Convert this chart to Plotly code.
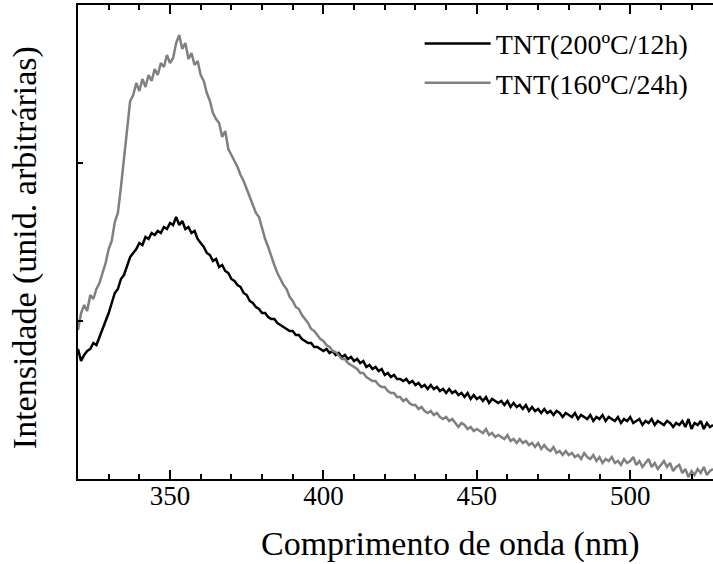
import numpy as np
import plotly.graph_objects as go

wavelength = list(range(320, 528))

tnt_200_12 = [
    130, 118, 124, 128, 130, 136, 134, 142, 150, 156,
    166, 176, 186, 190, 200, 204, 214, 222, 226, 230,
    236, 234, 242, 240, 246, 244, 248, 246, 252, 250,
    256, 254, 262, 254, 258, 250, 252, 246, 248, 240,
    236, 232, 226, 224, 218, 220, 212, 214, 208, 206,
    200, 198, 194, 192, 186, 184, 178, 176, 172, 170,
    166, 166, 162, 160, 160, 156, 154, 152, 150, 148,
    148, 144, 144, 140, 138, 136, 136, 132, 132, 130,
    128, 130, 126, 128, 124, 126, 122, 124, 120, 122,
    118, 120, 116, 118, 112, 114, 110, 112, 108, 110,
    104, 106, 102, 104, 100, 100, 98, 100, 96, 98,
    94, 96, 92, 94, 90, 94, 90, 92, 88, 90,
    86, 90, 86, 88, 84, 86, 82, 86, 80, 84,
    80, 82, 78, 82, 76, 80, 78, 76, 78, 74,
    78, 72, 76, 72, 74, 70, 74, 68, 72, 68,
    70, 66, 70, 66, 68, 64, 68, 66, 62, 66,
    64, 62, 66, 60, 64, 62, 60, 64, 58, 62,
    60, 64, 58, 62, 60, 58, 62, 56, 60, 58,
    62, 56, 58, 60, 54, 58, 56, 60, 54, 58,
    56, 54, 58, 56, 52, 56, 54, 58, 52, 60,
    50, 56, 54, 58, 50, 56, 52, 54,
]

tnt_160_24 = [
    149, 166, 174, 168, 184, 180, 190, 196, 206, 216,
    230, 238, 257, 266, 292, 322, 352, 378, 384, 396,
    388, 400, 392, 404, 398, 410, 404, 416, 412, 424,
    416, 421, 436, 444, 430, 436, 420, 426, 414, 418,
    404, 398, 386, 378, 366, 360, 356, 342, 348, 330,
    324, 318, 312, 304, 298, 290, 282, 274, 266, 262,
    250, 240, 232, 222, 214, 206, 200, 194, 190, 182,
    178, 172, 170, 164, 160, 156, 150, 148, 144, 140,
    138, 134, 132, 128, 127, 124, 120, 120, 116, 114,
    112, 110, 106, 106, 102, 100, 98, 98, 94, 92,
    92, 88, 86, 86, 82, 82, 78, 80, 76, 74,
    74, 70, 72, 68, 66, 68, 64, 66, 62, 60,
    62, 58, 60, 56, 52, 56, 54, 50, 52, 48,
    50, 48, 46, 50, 44, 46, 42, 44, 42, 40,
    44, 38, 40, 36, 40, 36, 38, 34, 36, 32,
    36, 30, 34, 30, 28, 32, 26, 28, 24, 28,
    24, 26, 22, 24, 20, 26, 22, 20, 24, 18,
    22, 16, 20, 18, 22, 16, 18, 14, 20, 16,
    18, 22, 14, 18, 12, 16, 20, 12, 16, 10,
    14, 18, 12, 16, 8, 12, 14, 6, 10, 2,
    8, 4, 10, 6, 12, 4, 8, 10,
]

series_names = ["TNT(200ºC/12h)", "TNT(160ºC/24h)"]
series_colors = ["#000000", "#808080"]
x_title = "Comprimento de onda (nm)"
y_title = "Intensidade (unid. arbitrárias)"

fig = go.Figure()
for name, vals, col in zip(series_names, [tnt_200_12, tnt_160_24], series_colors):
    fig.add_trace(go.Scatter(x=wavelength, y=vals, mode="lines", name=name,
                             line=dict(color=col, width=2.5)))

font_family = "Times New Roman"

fig.update_layout(
    width=713, height=564,
    margin=dict(l=78, r=0, t=5, b=85),
    paper_bgcolor="white", plot_bgcolor="white",
    font=dict(family=font_family, color="black"),
    showlegend=True,
    legend=dict(x=0.538, y=0.971, xanchor="left", yanchor="top",
                font=dict(size=28, family=font_family),
                bgcolor="rgba(0,0,0,0)", tracegroupgap=0, itemwidth=66),
    xaxis=dict(
        range=[320, 527], showgrid=False, zeroline=False,
        showline=True, linecolor="black", linewidth=1.5, mirror="ticks",
        ticks="inside", ticklen=9, tickwidth=1.5, tickcolor="black",
        tickvals=[350, 400, 450, 500],
        tickfont=dict(size=27, family=font_family),
        ticklabelstandoff=-8,
        minor=dict(dtick=10, tick0=320, ticks="inside", ticklen=5, tickwidth=1.5, tickcolor="black"),
    ),
    yaxis=dict(
        range=[0, 474], showgrid=False, zeroline=False,
        showline=True, linecolor="black", linewidth=1.5, mirror=False,
        ticks="inside", ticklen=5, tickwidth=1.5, tickcolor="black",
        tickvals=[158, 316], showticklabels=False,
    ),
    annotations=[
        dict(text=x_title, xref="paper", yref="paper", x=0.587, y=-0.137,
             xanchor="center", yanchor="middle", showarrow=False,
             font=dict(size=34, family=font_family)),
        dict(text=y_title, xref="paper", yref="paper", x=-0.0835, y=0.489,
             xanchor="center", yanchor="middle", showarrow=False, textangle=-90,
             font=dict(size=34, family=font_family)),
    ],
)

fig.write_html("out.html")
